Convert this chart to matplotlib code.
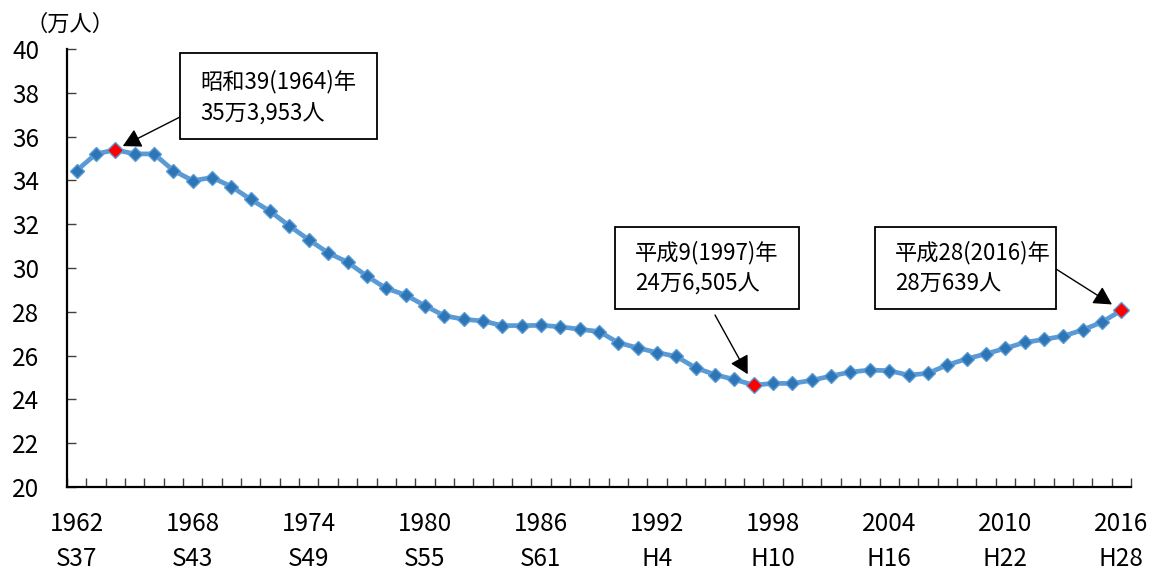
import matplotlib
matplotlib.use("Agg")
import matplotlib.pyplot as plt
from matplotlib.patches import Rectangle

plt.rcParams['font.family'] = ['Noto Sans CJK JP', 'DejaVu Sans']

# 人口の推移（万人）
years = list(range(1962, 2017))
population = [34.45, 35.21, 35.3953, 35.21, 35.21, 34.45, 33.99, 34.13, 33.72, 33.13,
              32.59, 31.92, 31.29, 30.69, 30.27, 29.63, 29.07, 28.77, 28.28, 27.82,
              27.66, 27.58, 27.37, 27.37, 27.38, 27.32, 27.20, 27.10, 26.59, 26.35,
              26.14, 25.96, 25.44, 25.13, 24.91, 24.6505, 24.73, 24.73, 24.87, 25.07,
              25.25, 25.34, 25.31, 25.11, 25.19, 25.57, 25.85, 26.08, 26.33, 26.60,
              26.74, 26.89, 27.17, 27.53, 28.0639]

label_years = [1962, 1968, 1974, 1980, 1986, 1992, 1998, 2004, 2010, 2016]
era_labels = ['S37', 'S43', 'S49', 'S55', 'S61', 'H4', 'H10', 'H16', 'H22', 'H28']

highlight_years = [1964, 1997, 2016]
highlight_text = [('昭和39(1964)年', '35万3,953人'),
                  ('平成9(1997)年', '24万6,505人'),
                  ('平成28(2016)年', '28万639人')]

W, H = 1158, 571
fig = plt.figure(figsize=(W / 100, H / 100), dpi=100)
ax = fig.add_axes([67 / W, 1 - 487 / H, (1131 - 67) / W, (487 - 49) / H])

ax.plot(years, population, color='#5B9BD5', lw=3.4, marker='D', ms=7,
        mfc='#2E75B6', mec='#5B9BD5', mew=1, zorder=3)
hv = [population[years.index(y)] for y in highlight_years]
ax.plot(highlight_years, hv, ls='none', marker='D', ms=8.5,
        mfc='#FF0000', mec='#5B9BD5', mew=1, zorder=4)

ax.set_xlim(1961.5, 2016.5)
ax.set_ylim(20, 40)
ax.set_yticks(range(20, 41, 2))
ax.set_xticks(label_years)
ax.set_xticklabels([f'{y}\n{e}' for y, e in zip(label_years, era_labels)],
                   linespacing=1.45)
ax.set_xticks([y - 0.5 for y in years] + [2016.5], minor=True)

for s in ['top', 'right']:
    ax.spines[s].set_visible(False)
for s in ['left', 'bottom']:
    ax.spines[s].set_linewidth(1.6)
    ax.spines[s].set_color('black')

ax.tick_params(axis='x', which='major', length=0, pad=17, labelsize=17.5)
ax.tick_params(axis='x', which='minor', direction='in', length=6.5,
               width=1, color='#404040')
ax.tick_params(axis='y', direction='in', length=6.5, width=1, color='#404040',
               pad=20, labelsize=17.5)

fig.text(70 / W, 1 - 24 / H, '（万人）', fontsize=16, ha='center', va='center')


def px(x, y):
    return x / W, 1 - y / H


# 吹き出しの枠・文字・矢印
boxes = [(180, 53, 377, 139), (615, 227, 799, 309), (875, 227, 1056, 309)]
text_pos = [(200, 82, 114), (635, 253, 284), (895, 253, 284)]
arrow_from = [(180, 117), (715, 315), (1056, 269)]
shrink = [6, 9, 8]

for (x0, y0, x1, y1), (tx, ty1, ty2), (ax0, ay0), yr, v, (l1, l2), sb in zip(
        boxes, text_pos, arrow_from, highlight_years, hv, highlight_text, shrink):
    fx0, fy1 = px(x0, y1)
    fx1, fy0 = px(x1, y0)
    fig.add_artist(Rectangle((fx0, fy1), fx1 - fx0, fy0 - fy1,
                             transform=fig.transFigure, fill=True, fc='white',
                             ec='black', lw=1.3, zorder=5))
    fig.text(*px(tx, ty1), l1, fontsize=16, ha='left', va='center', zorder=6)
    fig.text(*px(tx, ty2), l2, fontsize=16, ha='left', va='center', zorder=6)
    ax.annotate('', xy=(yr, v), xycoords='data',
                xytext=px(ax0, ay0), textcoords='figure fraction',
                arrowprops=dict(arrowstyle='-|>,head_length=0.55,head_width=0.3',
                                mutation_scale=20, color='black', lw=1,
                                shrinkA=0, shrinkB=sb),
                annotation_clip=False, zorder=6)

fig.savefig('out.png', dpi=100)
